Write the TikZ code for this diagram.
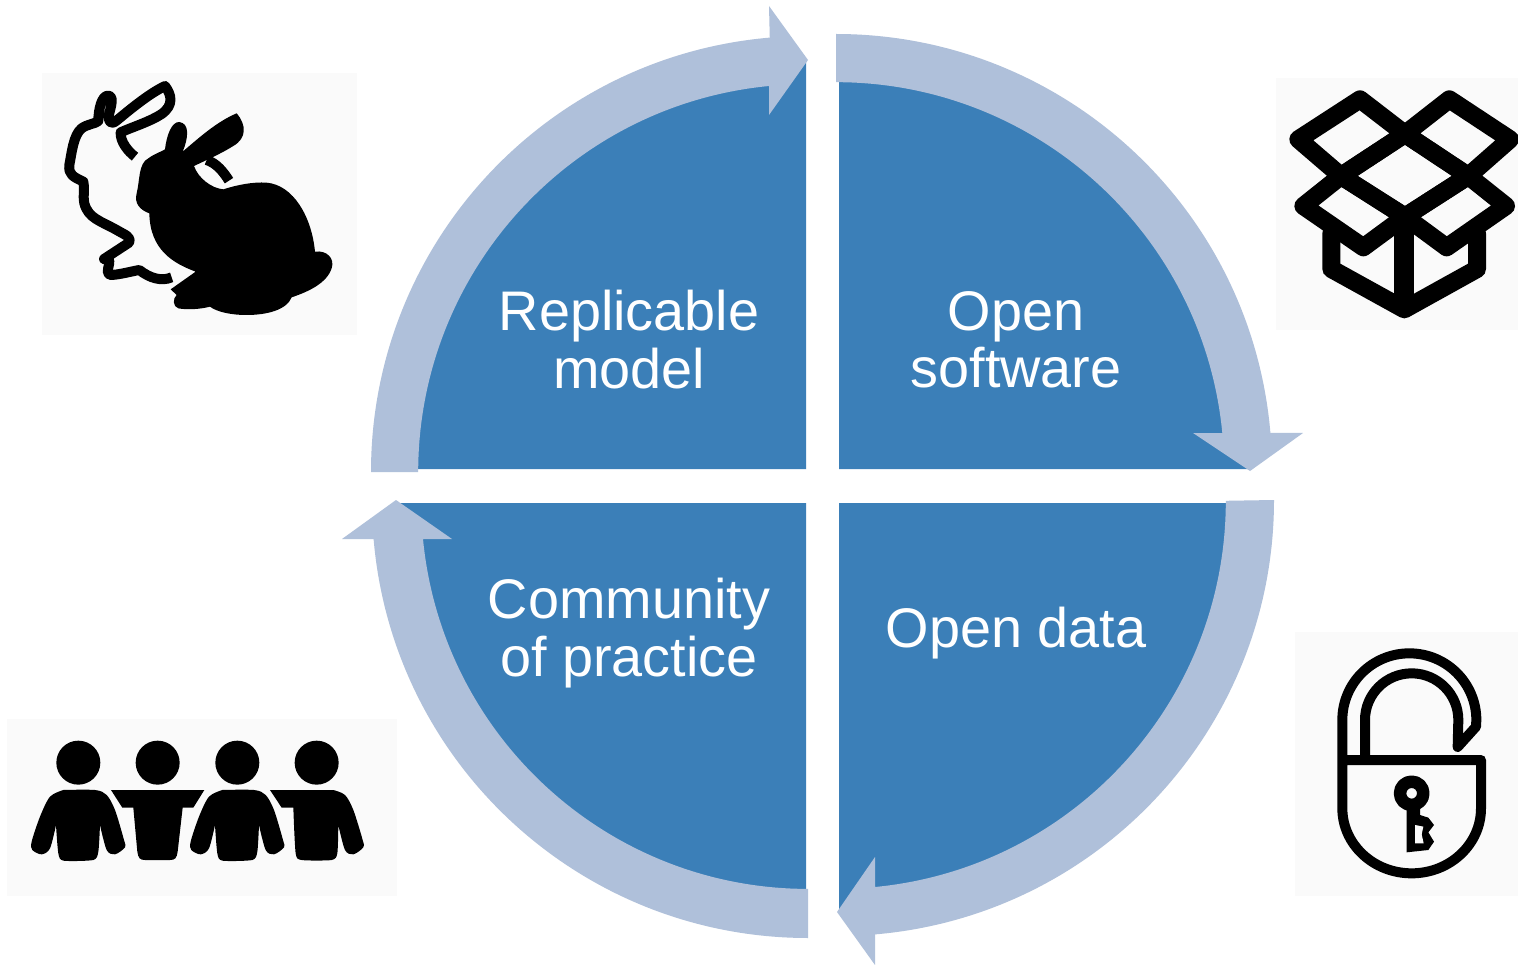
\documentclass[tikz,border=0pt]{standalone}
\usepackage{fontspec}
\setmainfont{Liberation Sans}
\definecolor{sector}{RGB}{59,127,184}
\definecolor{ring}{RGB}{175,192,218}
\definecolor{iconbg}{RGB}{250,250,250}
\tikzset{
  sectorshape/.style={fill=sector,draw=none},
  ringshape/.style={fill=ring,draw=none},
  iconback/.style={fill=iconbg,draw=none},
  sectorlabel/.style={text=white,align=center,inner sep=0pt,font=\fontsize{55.8}{57.5}\selectfont},
  icon/.style={fill=black,draw=none}
}
\begin{document}
\begin{tikzpicture}[x=1pt,y=1pt,yscale=-1]
\useasboundingbox (0,0) rectangle (1518,965);
\fill[white] (0,0) rectangle (1518,965);
% sectors (their outer edge lies under the ring arrows)
\fill[sectorshape] (839,469) -- (839,59) arc (270:360:410) -- cycle;
\fill[sectorshape] (806,469) -- (396,469) arc (180:270:410) -- cycle;
\fill[sectorshape] (806,503) -- (806,913) arc (90:180:410) -- cycle;
\fill[sectorshape] (839,503) -- (1249,503) arc (0:90:410) -- cycle;
% ring arrows
\fill[ringshape] (836,34) arc (270:355.1:436) -- (1303,433) -- (1250,471) -- (1193,433) -- ({836+386.3},433) arc (354.5:270:388) -- cycle;
\fill[ringshape] (1274,500) arc (0:85.1:436) -- (875,965) -- (837,912) -- (875,857) -- (875,887) arc (84.5:0:388) -- cycle;
\fill[ringshape] (808,938) arc (90:175.1:436) -- (342,539) -- (396,500) -- (452,539) -- (423,539) arc (174.5:90:387) -- cycle;
\fill[ringshape] (371,472) arc (180:265.1:436) -- (769,6) -- (808,60) -- (769,115) -- (769,86) arc (264.5:180:388) -- cycle;
% labels
\node[sectorlabel] (replicable) at (629,339.5) {Replicable\\model};
\node[sectorlabel] (software) at (1016,340) {Open\\software};
\node[sectorlabel] (community) at (629,633) {Community\\of practice};
\node[sectorlabel] (data) at (1016,633) {Open data};
% icon backgrounds
\fill[iconback] (42,73) rectangle (357,335);
\fill[iconback] (1276,78) rectangle (1518,330);
\fill[iconback] (1295,632) rectangle (1518,896);
\fill[iconback] (7,719) rectangle (397,896);
% rabbit
\begin{scope}[shift={(30,60)},scale=1/3]
\draw[line width=10pt,line cap=butt,line join=round]
  (425,652) .. controls (395,665) and (360,655) .. (328,630)
  .. controls (300,635) and (265,645) .. (240,645)
  .. controls (225,640) and (240,615) .. (238,602) -- (222,597)
  -- (297,548) .. controls (305,530) and (285,525) .. (260,510)
  .. controls (210,482) and (175,475) .. (163,430)
  .. controls (158,405) and (165,385) .. (160,365)
  .. controls (130,350) and (115,345) .. (118,315)
  .. controls (125,280) and (130,225) .. (155,205)
  .. controls (170,193) and (200,190) .. (205,183)
  .. controls (205,150) and (215,105) .. (235,107)
  .. controls (258,108) and (235,160) .. (236,172)
  .. controls (238,192) and (248,193) .. (262,180)
  .. controls (310,140) and (360,100) .. (405,78)
  .. controls (425,105) and (432,135) .. (395,162)
  .. controls (360,185) and (310,200) .. (272,217)
  .. controls (270,245) and (295,275) .. (315,290);
\draw[line width=10pt] (530,300) .. controls (560,310) and (580,335) .. (597,362);
\fill[icon] (458,275) .. controls (505,235) and (560,185) .. (620,160)
  .. controls (650,195) and (650,235) .. (610,258)
  .. controls (575,280) and (530,300) .. (492,318)
  .. controls (505,355) and (545,385) .. (580,388)
  .. controls (620,375) and (670,365) .. (710,368)
  .. controls (790,375) and (845,470) .. (855,575)
  .. controls (890,570) and (915,595) .. (905,625)
  .. controls (890,670) and (835,695) .. (785,712)
  .. controls (770,750) and (710,765) .. (650,765)
  .. controls (600,765) and (560,755) .. (540,740)
  .. controls (510,748) and (470,750) .. (445,745)
  .. controls (428,740) and (428,715) .. (440,705) -- (422,688) -- (497,635)
  .. controls (430,610) and (360,570) .. (358,460)
  .. controls (330,450) and (312,430) .. (320,400)
  .. controls (330,360) and (325,310) .. (355,295)
  .. controls (375,280) and (395,275) .. (405,268)
  .. controls (410,225) and (425,185) .. (448,186)
  .. controls (480,190) and (475,235) .. (458,275) -- cycle;
\end{scope}
% box
\begin{scope}[shift={(1260,70)},scale=1/3,line width=18pt,line join=round,line cap=round]
\draw (115,208) -- (300,88) -- (435,192) -- (243,318) -- cycle;
\draw (568,88) -- (750,208) -- (625,318) -- (435,192) -- cycle;
\draw (435,192) -- (625,318) -- (435,440) -- (243,318) -- cycle;
\draw (243,318) -- (435,440) -- (310,532) -- (130,408) -- cycle;
\draw (625,318) -- (738,408) -- (560,532) -- (435,440) -- cycle;
\draw (214,490) -- (214,597) -- (433,718) -- (651,597) -- (651,490);
\draw[line width=20pt,line cap=butt] (433,440) -- (433,716);
\end{scope}
% padlock
\begin{scope}[shift={(1285,625)},scale=1/3,line width=10pt,line join=round]
\draw (172,405) -- (588,405) -- (588,550) arc (0:180:208 and 195) -- (172,285) arc (180:360:201 and 200) -- (573,305) -- (518,366) -- (520,285) arc (360:180:140) -- (240,405);
\draw[line width=12.5pt] (380,505) circle (35);
\fill[icon] (365,540) -- (405,540) -- (405,570) -- (430,578) -- (447,600) -- (430,622) -- (447,650) -- (430,675) -- (365,682) -- cycle;
\fill[iconbg] (390,600) -- (415,605) -- (410,628) -- (416,655) -- (390,655) -- cycle;
\end{scope}
% people
\begin{scope}[shift={(0,710)},scale=1/3]
\foreach \hx in {235,473,712,950} {\fill[icon] (\hx,158) circle (66);}
\foreach \dx in {0,477} {
\begin{scope}[xshift=\dx pt]
\fill[icon] plot[smooth,tension=.5] coordinates {(190,240)(285,240)(320,255)(345,300)(372,390)(375,412)(345,433)(320,420)(300,345)}
 -- plot[smooth,tension=.4] coordinates {(300,345)(295,425)(280,450)(190,452)(175,430)(168,345)}
 -- plot[smooth,tension=.5] coordinates {(168,345)(150,415)(125,433)(97,420)(95,395)(120,320)(150,260)(190,240)} -- cycle;
\end{scope}
}
\fill[icon] (333,240) -- (613,240) -- (580,293) -- (548,293) -- (533,425) .. controls (530,445) and (525,450) .. (510,450) -- (435,450) .. controls (420,450) and (415,445) .. (412,425) -- (400,293) -- (367,293) -- cycle;
\fill[icon] (810,240) -- (1000,240) -- plot[smooth,tension=.5] coordinates {(1000,240)(1035,255)(1060,300)(1088,390)(1090,412)(1060,433)(1035,420)(1015,345)}
 -- plot[smooth,tension=.4] coordinates {(1015,345)(1012,430)(995,450)(905,450)(887,430)(880,293)} -- (845,293) -- cycle;
\end{scope}
\end{tikzpicture}
\end{document}
